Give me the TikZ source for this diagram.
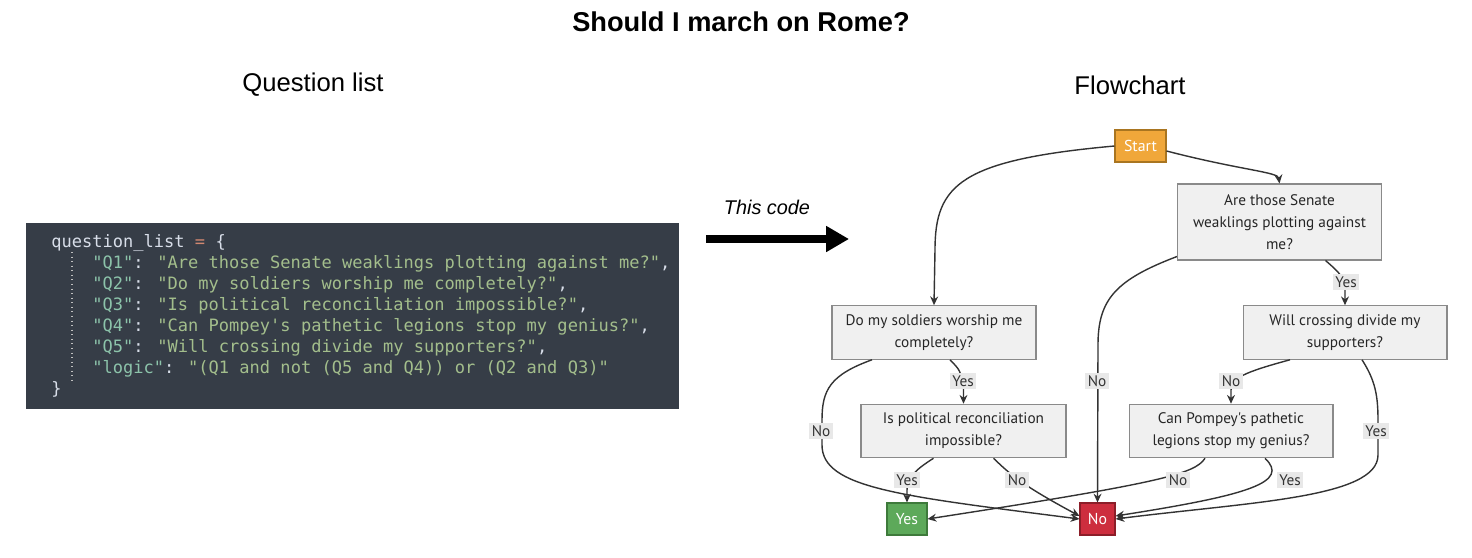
\documentclass[tikz,border=0pt]{standalone}
\usepackage{fontspec}
\setmainfont{Liberation Sans}
\newfontfamily\codefont{DejaVu Sans Mono}
\newfontfamily\flowfont{PT Sans}
\usetikzlibrary{arrows.meta,calc}
\definecolor{codebg}{HTML}{363D47}
\definecolor{codeplain}{HTML}{D8DEE9}
\definecolor{codeop}{HTML}{D08770}
\definecolor{codekey}{HTML}{8CC3AA}
\definecolor{codestr}{HTML}{A3BE8C}
\definecolor{qfill}{HTML}{F0F0F0}
\definecolor{qline}{HTML}{8A8A8A}
\definecolor{startfill}{HTML}{F0A73A}
\definecolor{startline}{HTML}{A97520}
\definecolor{yesfill}{HTML}{5DA95A}
\definecolor{yesline}{HTML}{3E7A3B}
\definecolor{nofill}{HTML}{CD2E3E}
\definecolor{noline}{HTML}{8C1E29}
\definecolor{lblfill}{HTML}{E8E8E8}
\definecolor{edgecol}{HTML}{333333}
\newcommand{\ckey}[1]{\textcolor{codekey}{"#1"}}
\newcommand{\cstr}[1]{\textcolor{codestr}{"#1"}}
\tikzset{
    question/.style = {draw=qline, fill=qfill, line width=0.6pt, inner sep=0pt,
                 minimum width=4.08cm, minimum height=1.07cm, align=center,
                 font=\flowfont\fontsize{8.7}{12.5}\selectfont, text=black!85},
    terminal/.style = {line width=0.6pt, inner sep=0pt, minimum height=0.64cm,
                 font=\flowfont\fontsize{9}{11}\selectfont, text=white},
    elabel/.style = {fill=lblfill, inner sep=1.5pt, text=black!80,
                 font=\flowfont\fontsize{8.7}{10}\selectfont},
    flow/.style = {draw=edgecol, line width=0.8pt, -{Stealth[length=5pt,width=4.5pt]}},
    heading/.style = {font=\fontsize{14.6}{17}\selectfont},
}

\begin{document}
\begin{tikzpicture}[x=0.02cm,y=-0.02cm]
\useasboundingbox (0,0) rectangle (1472,558);

% titles
\node (title) [font=\bfseries\fontsize{15.5}{18}\selectfont] at (741,22) {Should I march on Rome?};
\node (qlist) [heading] at (313,85) {Question list};
\node (fchart) [heading] at (1130,85) {Flowchart};

% code block
\fill[codebg] (26,223) rectangle (679,409);
\draw[gray!50, dotted, line width=0.6pt] (72,252) -- (72,382);
\node (code) [anchor=north west, inner sep=0pt, align=left, text=codeplain,
     font=\codefont\fontsize{9.7}{11.95}\selectfont] at (51,234) {%
question\_list \textcolor{codeop}{=} \{\\
\hphantom{xxxx}\ckey{Q1}: \cstr{Are those Senate weaklings plotting against me?},\\
\hphantom{xxxx}\ckey{Q2}: \cstr{Do my soldiers worship me completely?},\\
\hphantom{xxxx}\ckey{Q3}: \cstr{Is political reconciliation impossible?},\\
\hphantom{xxxx}\ckey{Q4}: \cstr{Can Pompey's pathetic legions stop my genius?},\\
\hphantom{xxxx}\ckey{Q5}: \cstr{Will crossing divide my supporters?},\\
\hphantom{xxxx}\ckey{logic}: \cstr{(Q1 and not (Q5 and Q4)) or (Q2 and Q3)}\\
\}};

% big arrow
\node (thiscode) [font=\itshape\fontsize{11.3}{13}\selectfont] at (767,207) {This code};
\coordinate (tail) at (706,239);
\coordinate (tip) at (849,239);
\draw[line width=4.5pt, -{Triangle[length=13pt,width=14pt]}] (tail) -- (tip);

% flowchart nodes
\node (start) [terminal, draw=startline, fill=startfill, minimum width=1.02cm] at (1140.5,146) {Start};
\node (q1) [question, minimum height=1.52cm] at (1279.5,222) {Are those Senate\\weaklings plotting against\\me?};
\node (q2) [question] at (934,332.5) {Do my soldiers worship me\\completely?};
\node (q5) [question] at (1345,332.5) {Will crossing divide my\\supporters?};
\node (q3) [question, minimum width=4.1cm] at (963.5,431) {Is political reconciliation\\impossible?};
\node (q4) [question] at (1231,431) {Can Pompey's pathetic\\legions stop my genius?};
\node (yes) [terminal, draw=yesline, fill=yesfill, minimum width=0.8cm] at (907,519) {Yes};
\node (no) [terminal, draw=noline, fill=nofill, minimum width=0.7cm] at (1097.5,519) {No};

% connectors
\draw[flow] (start.west) .. controls (960,160) and (935,185) .. (935,250) -- (q2.north);
\draw[flow] ($(start.east)+(0,5)$) .. controls (1240,170) and (1278,172) .. (q1.north);
\draw[flow] ($(q1.south west)+(0,-4)$) .. controls (1115,280) and (1098,300) .. (1098,345) -- (no.north);
\draw[flow] ($(q1.south)+(46,0)$) .. controls (1340,273) and (1345,278) .. (1345,290) -- (q5.north);
\draw[flow] ($(q2.south)+(16,0)$) .. controls (960,370) .. (963.5,386) -- (q3.north);
\draw[flow] ($(q2.south)+(-62,0)$) .. controls (830,375) and (822,390) .. (822,420) -- (822,445)
    .. controls (822,488) and (900,496) .. (no.west);
\draw[flow] ($(q5.south)+(-55,0)$) .. controls (1245,372) and (1231,378) .. (1231,390) -- (q4.north);
\draw[flow] ($(q5.south)+(17,0)$) .. controls (1375,380) and (1378,395) .. (1378,420) -- (1378,455)
    .. controls (1378,498) and (1250,502) .. (no.east);
\draw[flow] ($(q3.south)+(-30,0)$) .. controls (915,470) and (907,478) .. (907,490) -- (yes.north);
\draw[flow] ($(q3.south)+(30,0)$) .. controls (1010,474) and (1020,484) .. ($(no.west)+(0,-3)$);
\draw[flow] ($(q4.south)+(-26,0)$) .. controls (1195,474) and (1160,483) .. (yes.east);
\draw[flow] ($(q4.south)+(34,0)$) .. controls (1290,482) and (1250,495) .. ($(no.east)+(0,-3)$);

% edge labels
\node (l1) [elabel] at (1097,381) {No};
\node (l2) [elabel] at (1346,282) {Yes};
\node (l3) [elabel] at (963,381) {Yes};
\node (l4) [elabel] at (821,431) {No};
\node (l5) [elabel] at (1231,381) {No};
\node (l6) [elabel] at (1376,431) {Yes};
\node (l7) [elabel] at (907,480) {Yes};
\node (l8) [elabel] at (1017,480) {No};
\node (l9) [elabel] at (1178,480) {No};
\node (l10) [elabel] at (1290,480) {Yes};
\end{tikzpicture}
\end{document}
